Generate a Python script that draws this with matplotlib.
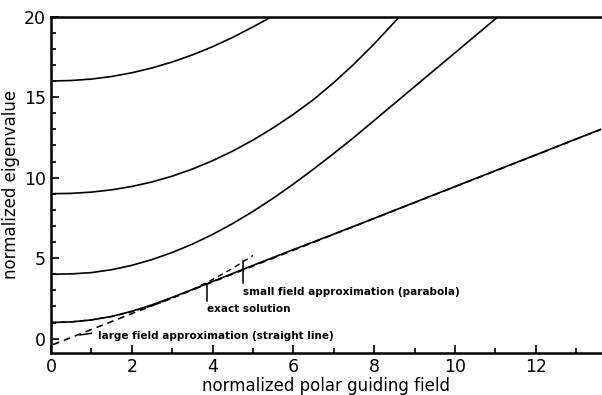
import matplotlib.pyplot as plt
from matplotlib.ticker import MultipleLocator

# exact eigenvalue curves
x_n1 = [0, 0.5, 1, 1.5, 2, 2.5, 3, 3.5, 4, 4.5, 5, 5.5, 6, 7, 8, 9, 10, 11, 12, 13, 13.6]
y_n1 = [1.00, 1.04, 1.16, 1.38, 1.70, 2.10, 2.56, 3.05, 3.55, 4.05, 4.55, 5.04, 5.53,
        6.49, 7.47, 8.46, 9.44, 10.43, 11.41, 12.40, 12.99]

x_n2 = [0, 0.5, 1, 1.5, 2, 2.5, 3, 3.5, 4, 4.5, 5, 5.5, 6, 6.5, 7, 7.5, 8, 8.5, 9,
        9.5, 10, 10.5, 11, 11.07]
y_n2 = [4.0, 4.02, 4.10, 4.28, 4.55, 4.91, 5.35, 5.87, 6.47, 7.15, 7.90, 8.72, 9.60,
        10.53, 11.50, 12.50, 13.55, 14.60, 15.65, 16.70, 17.75, 18.80, 19.85, 20.0]

x_n3 = [0, 0.5, 1, 1.5, 2, 2.5, 3, 3.5, 4, 4.5, 5, 5.5, 6, 6.5, 7, 7.5, 8, 8.5, 8.63]
y_n3 = [9.0, 9.02, 9.10, 9.24, 9.45, 9.73, 10.09, 10.53, 11.05, 11.65, 12.33, 13.09,
        13.93, 14.85, 15.90, 17.05, 18.30, 19.65, 20.0]

x_n4 = [0, 0.5, 1, 1.5, 2, 2.5, 3, 3.5, 4, 4.5, 5, 5.47]
y_n4 = [16.0, 16.03, 16.12, 16.28, 16.51, 16.81, 17.18, 17.62, 18.13, 18.71, 19.36, 20.0]

# small field approximation (parabola), dashed
x_par = [0, 0.5, 1, 1.5, 2, 2.5, 3, 3.5, 4, 4.5, 5]
y_par = [1.0, 1.04, 1.17, 1.37, 1.67, 2.04, 2.5, 3.04, 3.67, 4.37, 5.17]

# large field approximation (straight line), dashed
x_lin = [0.05, 13.6]
y_lin = [-0.37, 12.98]

fig = plt.figure(figsize=(6.02, 3.95), dpi=100)
ax = fig.add_axes([0.0847, 0.106, 0.9153, 0.852])

for xs, ys in [(x_n1, y_n1), (x_n2, y_n2), (x_n3, y_n3), (x_n4, y_n4)]:
    ax.plot(xs, ys, color='black', lw=1.2, solid_joinstyle='round')

ax.plot(x_par, y_par, color='black', lw=1.0, ls=(0, (4, 3)))
ax.plot(x_lin, y_lin, color='black', lw=1.2, ls=(0, (4, 3)))

# labels with small pointer marks
tfont = dict(fontsize=7.5, fontweight='bold', color='black')
ax.plot([4.76, 4.76], [4.8, 3.45], color='black', lw=1.1)
ax.text(4.76, 2.92, 'small field approximation (parabola)', va='center', ha='left', **tfont)
ax.plot([3.85, 3.85], [3.4, 2.35], color='black', lw=1.1)
ax.text(3.85, 1.83, 'exact solution', va='center', ha='left', **tfont)
ax.plot([0.72, 1.0], [0.23, 0.33], color='black', lw=1.1)
ax.text(1.17, 0.17, 'large field approximation (straight line)', va='center', ha='left', **tfont)

ax.set_xlim(0, 13.64)
ax.set_ylim(-0.9, 20)
ax.xaxis.set_major_locator(MultipleLocator(2))
ax.xaxis.set_minor_locator(MultipleLocator(1))
ax.yaxis.set_major_locator(MultipleLocator(5))
ax.yaxis.set_minor_locator(MultipleLocator(1))
ax.tick_params(which='both', direction='in', width=1.2, labelsize=12.5)
ax.tick_params(which='major', length=6)
ax.tick_params(which='minor', length=3.5)
ax.spines['right'].set_visible(False)
for s in ['left', 'bottom', 'top']:
    ax.spines[s].set_linewidth(1.8)

ax.set_xlabel('normalized polar guiding field', fontsize=12, labelpad=1)
ax.set_ylabel('normalized eigenvalue', fontsize=12, labelpad=3)

fig.savefig('out.png', dpi=100)
